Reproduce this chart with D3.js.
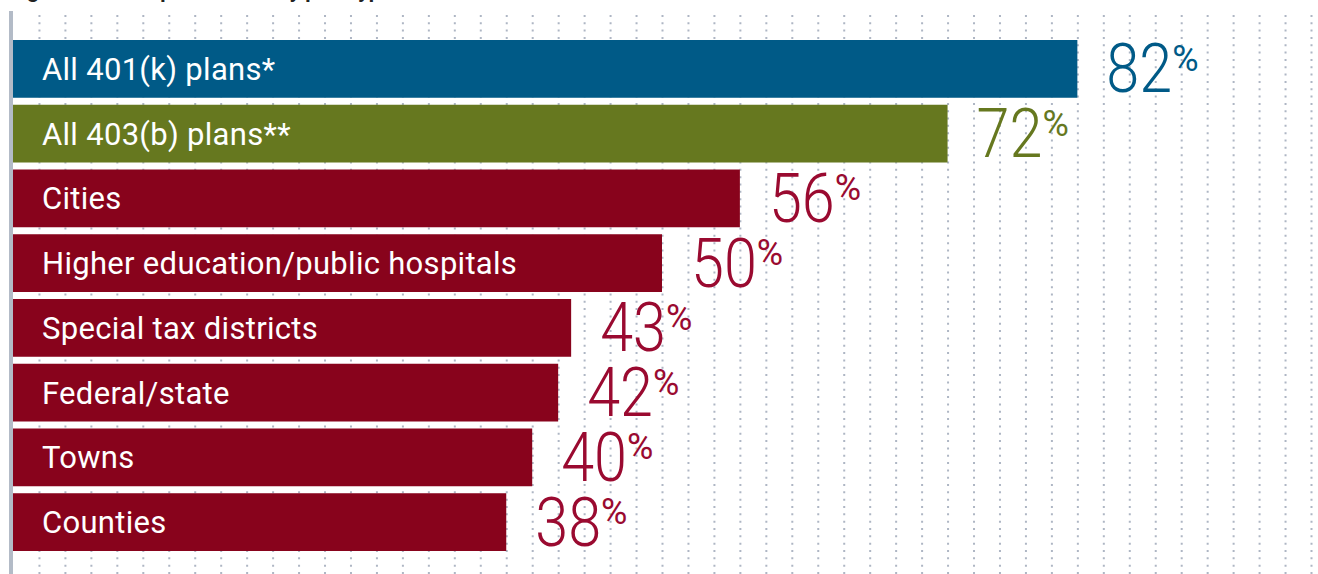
<!DOCTYPE html>
<html>
<head>
<meta charset="utf-8">
<script src="https://cdn.jsdelivr.net/npm/d3@7"></script>
<style>
  html, body { margin: 0; padding: 0; background: #fff; }
  svg { display: block; }
</style>
</head>
<body>
<div id="chart"></div>
<script>
const categories = ["All 401(k) plans*", "All 403(b) plans**", "Cities", "Higher education/public hospitals",
  "Special tax districts", "Federal/state", "Towns", "Counties"];
const values = [82, 72, 56, 50, 43, 42, 40, 38];
const groups = ["401k", "403b", "gov", "gov", "gov", "gov", "gov", "gov"];
const gridTicks = d3.range(2, 101, 2);
const title = "Figure 3. Participation rates by plan type";

const width = 1318, height = 574;

const barColor = { "401k": "#005a87", "403b": "#66781f", "gov": "#88031c" };
const numColor = { "401k": "#005a87", "403b": "#66781f", "gov": "#9a0a30" };

const data = categories.map((c, i) => ({ label: c, value: values[i], group: groups[i] }));

const svg = d3.select("#chart").append("svg")
  .attr("width", width)
  .attr("height", height);

const x = d3.scaleLinear().domain([0, 100]).range([13, 1311]);
const y = d3.scaleBand().domain(categories).range([40, 551]).paddingInner(0.108).paddingOuter(0);

// title sits mostly above the top edge, only descenders show
svg.append("text")
  .attr("x", 10)
  .attr("y", -2)
  .attr("font-family", "Roboto")
  .attr("font-weight", 700)
  .attr("font-size", "21px")
  .attr("fill", "#222")
  .text(title);

// dotted vertical grid
const grid = svg.append("g")
  .attr("transform", "translate(0," + height + ")")
  .call(d3.axisBottom(x).tickValues(gridTicks).tickSize(-(height - 11)).tickFormat(""));
grid.select(".domain").remove();
grid.selectAll("line")
  .attr("stroke", "#aeb6c4")
  .attr("stroke-width", 2)
  .attr("stroke-dasharray", "2,5.33");

// left axis bar
svg.append("rect")
  .attr("x", 9)
  .attr("y", 11)
  .attr("width", 4)
  .attr("height", height - 11)
  .attr("fill", "#b3bbc7");

const bars = svg.append("g").selectAll("g")
  .data(data)
  .enter()
  .append("g");

bars.append("rect")
  .attr("x", x(0))
  .attr("y", d => y(d.label))
  .attr("width", d => x(d.value) - x(0))
  .attr("height", y.bandwidth())
  .attr("fill", d => barColor[d.group]);

bars.append("text")
  .attr("x", 42)
  .attr("y", d => y(d.label) + y.bandwidth() / 2 + 11)
  .attr("font-family", "Roboto")
  .attr("font-size", "31px")
  .attr("letter-spacing", "0.3px")
  .attr("fill", "#fff")
  .text(d => d.label);

// value labels: condensed big number + raised %
const sx = 0.86;
const vals = bars.append("g")
  .attr("transform", d => "translate(" + (x(d.value) + 29) + "," + (y(d.label) + y.bandwidth() / 2) + ")");

vals.append("text")
  .attr("class", "num")
  .attr("transform", "scale(" + sx + ",1)")
  .attr("y", 23.5)
  .attr("font-family", "Roboto")
  .attr("font-weight", 300)
  .attr("font-size", "69px")
  .attr("fill", d => numColor[d.group])
  .text(d => d.value);

vals.each(function(d) {
  const g = d3.select(this);
  const w = g.select("text.num").node().getComputedTextLength() * sx;
  g.append("text")
    .attr("x", w)
    .attr("y", 2)
    .attr("font-family", "Roboto")
    .attr("font-size", "36px")
    .attr("fill", numColor[d.group])
    .text("%");
});
</script>
</body>
</html>
